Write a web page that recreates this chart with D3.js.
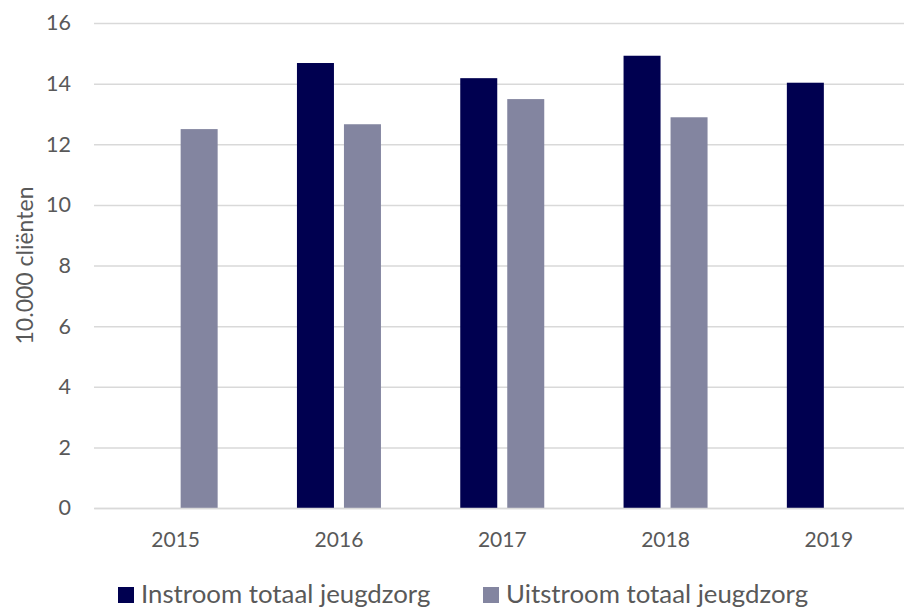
<!DOCTYPE html>
<html>
<head>
<meta charset="utf-8">
<script src="https://cdn.jsdelivr.net/npm/d3@7"></script>
<style>
  body { margin: 0; background: #fff; }
  text { font-family: Lato, "Open Sans", sans-serif; fill: #595959; }
</style>
</head>
<body>
<div id="container-chart"></div>
<script>
// Jeugdzorg in- en uitstroom, in 10.000 cliënten

//// DATA ///////////////////////////////////////////////////////////////////////
var years = ["2015", "2016", "2017", "2018", "2019"];
var series = ["Instroom totaal jeugdzorg", "Uitstroom totaal jeugdzorg"];
var instroom = [null, 14.68, 14.18, 14.92, 14.03];
var uitstroom = [12.5, 12.66, 13.49, 12.89, null];
var yTicks = [0, 2, 4, 6, 8, 10, 12, 14, 16];

//// SETTINGS ///////////////////////////////////////////////////////////////////
var width = 904,
    height = 610;

var plot_left = 94,
    plot_right = 910.5,
    plot_top = 23,
    plot_bottom = 508;

var colors = ["#000050", "#8385a0"];
var grid_color = "#d9d9d9";

//// UI SETUP ///////////////////////////////////////////////////////////////////
var svg = d3.select("#container-chart").append("svg")
            .attr("width", width)
            .attr("height", height);

var x0 = d3.scaleBand()
           .domain(years)
           .range([plot_left, plot_right]);

// group of two bars, 37px wide with a 10px gap, centred in each band
var group_pad = (x0.bandwidth() - 84) / 2;
var x1 = d3.scaleBand()
           .domain(series)
           .range([group_pad, x0.bandwidth() - group_pad])
           .paddingInner(10 / 47);

var y = d3.scaleLinear()
          .domain([0, 16])
          .range([plot_bottom, plot_top]);

// gridlines + y tick labels
var yAxis = svg.append("g")
               .attr("transform", "translate(" + plot_left + ",0)")
               .call(d3.axisLeft(y)
                       .tickValues(yTicks)
                       .tickSize(-(plot_right - plot_left))
                       .tickPadding(23));

yAxis.select(".domain").remove();
yAxis.selectAll(".tick line")
     .attr("stroke", grid_color)
     .attr("stroke-width", 1.5);
yAxis.selectAll(".tick text")
     .style("font-size", "21.5px")
     .style("fill", "#595959");

// bars
var rows = years.map(function(yr, i) {
    return { year: yr, values: [instroom[i], uitstroom[i]] };
});

var groups = svg.append("g").selectAll("g")
                .data(rows)
                .enter().append("g")
                .attr("transform", function(d) { return "translate(" + x0(d.year) + ",0)"; });

groups.selectAll("rect")
      .data(function(d) {
          return series.map(function(s, i) { return { key: s, idx: i, value: d.values[i] }; })
                       .filter(function(v) { return v.value != null; });
      })
      .enter().append("rect")
      .attr("x", function(d) { return x1(d.key); })
      .attr("y", function(d) { return y(d.value); })
      .attr("width", x1.bandwidth())
      .attr("height", function(d) { return y(0) - y(d.value); })
      .attr("fill", function(d) { return colors[d.idx]; });

// x axis: baseline + year labels
var xAxis = svg.append("g")
               .attr("transform", "translate(0," + plot_bottom + ")")
               .call(d3.axisBottom(x0).tickSize(0).tickPadding(24));

xAxis.select(".domain")
     .attr("stroke", grid_color)
     .attr("stroke-width", 1.5);
xAxis.selectAll(".tick text")
     .style("font-size", "21px")
     .style("fill", "#595959");

// y axis title
svg.append("text")
   .attr("transform", "translate(33," + ((plot_top + plot_bottom) / 2) + ") rotate(-90)")
   .style("text-anchor", "middle")
   .style("font-size", "23px")
   .text("10.000 cliënten");

// legend
var legend_x = [118, 483];
var legend = svg.append("g").selectAll("g")
                .data(series)
                .enter().append("g")
                .attr("transform", function(d, i) { return "translate(" + legend_x[i] + ",587)"; });

legend.append("rect")
      .attr("width", 16)
      .attr("height", 16)
      .attr("fill", function(d, i) { return colors[i]; });

legend.append("text")
      .attr("x", 23)
      .attr("y", 16)
      .style("font-size", "25.8px")
      .text(function(d) { return d; });
</script>
</body>
</html>
